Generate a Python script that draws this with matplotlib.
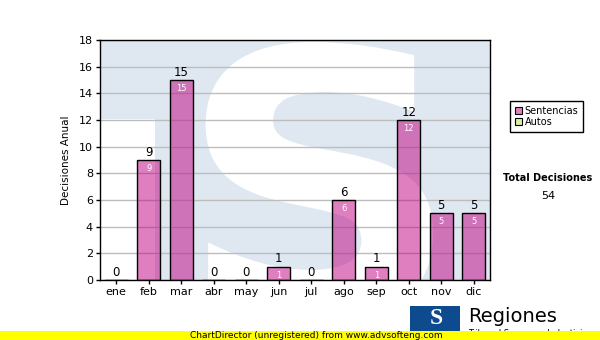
import matplotlib
matplotlib.use("Agg")
import matplotlib.pyplot as plt
from matplotlib.patches import Rectangle, PathPatch, Patch
from matplotlib.textpath import TextPath
from matplotlib.font_manager import FontProperties
from matplotlib.transforms import Affine2D

months = ["ene", "feb", "mar", "abr", "may", "jun", "jul", "ago", "sep", "oct", "nov", "dic"]
sentencias = [0, 9, 15, 0, 0, 1, 0, 6, 1, 12, 5, 5]
legend_labels = ["Sentencias", "Autos"]
total_label = "Total Decisiones"
total_value = sum(sentencias)
y_ticks = [0, 2, 4, 6, 8, 10, 12, 14, 16, 18]

W, H = 600, 340
fig = plt.figure(figsize=(6, 3.4), dpi=100)
fig.patch.set_facecolor("white")
ax = fig.add_axes([100 / W, 1 - 280 / H, 390 / W, 240 / H])

BLUE_BG = "#dfe8f1"
ax.set_xlim(-0.5, 11.5)
ax.set_ylim(0, 18)
ax.set_facecolor(BLUE_BG)

# watermark: white lower-left region + white "S"
ax.add_patch(Rectangle((-0.5, 0), 1.69, 12.07, facecolor="white", edgecolor="none", zorder=0.1))
tp = TextPath((0, 0), "S", prop=FontProperties(family="DejaVu Sans", weight="bold"), size=1)
ext = tp.get_extents()
x0, x1, y0, y1 = 2.75, 9.75, -3.0, 17.85
tr = Affine2D().translate(-ext.x0, -ext.y0).scale((x1 - x0) / ext.width, (y1 - y0) / ext.height).translate(x0, y0)
ax.add_patch(PathPatch(tr.transform_path(tp), facecolor="white", edgecolor="none", zorder=0.2, clip_on=True))

ax.set_yticks(y_ticks)
ax.yaxis.grid(True, color="#bdbdbd", linewidth=1, zorder=0.5)
ax.set_axisbelow(True)

x = list(range(len(months)))
ax.bar(x, sentencias, width=0.71, color="#c00080", alpha=0.5, zorder=2)
ax.bar(x, sentencias, width=0.71, facecolor="none", edgecolor="black", linewidth=1.0, zorder=3)

for xi, v in zip(x, sentencias):
    ax.annotate(str(v), (xi, v), xytext=(0, 1), textcoords="offset points",
                ha="center", va="bottom", fontsize=8.5, color="black", zorder=4)
    if v > 0:
        ax.annotate(str(v), (xi, v), xytext=(0, -3), textcoords="offset points",
                    ha="center", va="top", fontsize=6, color="white", zorder=4)

ax.set_xticks(x)
ax.set_xticklabels(months)
ax.tick_params(axis="both", labelsize=8, length=3, width=1, color="black", pad=2)
for s in ax.spines.values():
    s.set_color("black")
    s.set_linewidth(1)
ax.set_ylabel("Decisiones Anual", fontsize=7.5, labelpad=6)

# legend
handles = [Patch(facecolor="#e080c0", edgecolor="black", linewidth=0.8),
           Patch(facecolor="#d8f0a0", edgecolor="black", linewidth=0.8)]
leg = fig.legend(handles, legend_labels, loc="upper left", bbox_to_anchor=(510 / W, 1 - 101 / H),
                 fontsize=7, frameon=True, fancybox=False, edgecolor="black", framealpha=1,
                 handlelength=0.75, handleheight=0.75, handletextpad=0.25, borderpad=0.5,
                 labelspacing=0.15, borderaxespad=0)
leg.get_frame().set_linewidth(1)

fig.text(548 / W, 1 - 178 / H, total_label, ha="center", va="center", fontsize=7, fontweight="bold")
fig.text(548 / W, 1 - 196 / H, str(total_value), ha="center", va="center", fontsize=8)

# bottom logo
fig.patches.append(Rectangle((410 / W, 1 - 333 / H), 50 / W, 27 / H, transform=fig.transFigure,
                             facecolor="#0e4a8e", edgecolor="none", zorder=1))
fig.text(436 / W, 1 - 318 / H, "S", ha="center", va="center", fontsize=17, fontweight="bold",
         family="Liberation Serif", color="white", zorder=2)
fig.text(468 / W, 1 - 316 / H, "Regiones", ha="left", va="center", fontsize=14, color="black", zorder=2)
fig.text(468 / W, 1 - 334 / H, "Tribunal Supremo de Justicia", ha="left", va="center", fontsize=6, color="black", zorder=2)

# yellow band
fig.patches.append(Rectangle((0, 0), 1, 9 / H, transform=fig.transFigure,
                             facecolor="#ffff00", edgecolor="none", zorder=5))
fig.text(190 / W, 4.5 / H, "ChartDirector (unregistered) from www.advsofteng.com", ha="left",
         va="center", fontsize=6.5, color="black", zorder=6)

fig.savefig("out.png", dpi=100)
